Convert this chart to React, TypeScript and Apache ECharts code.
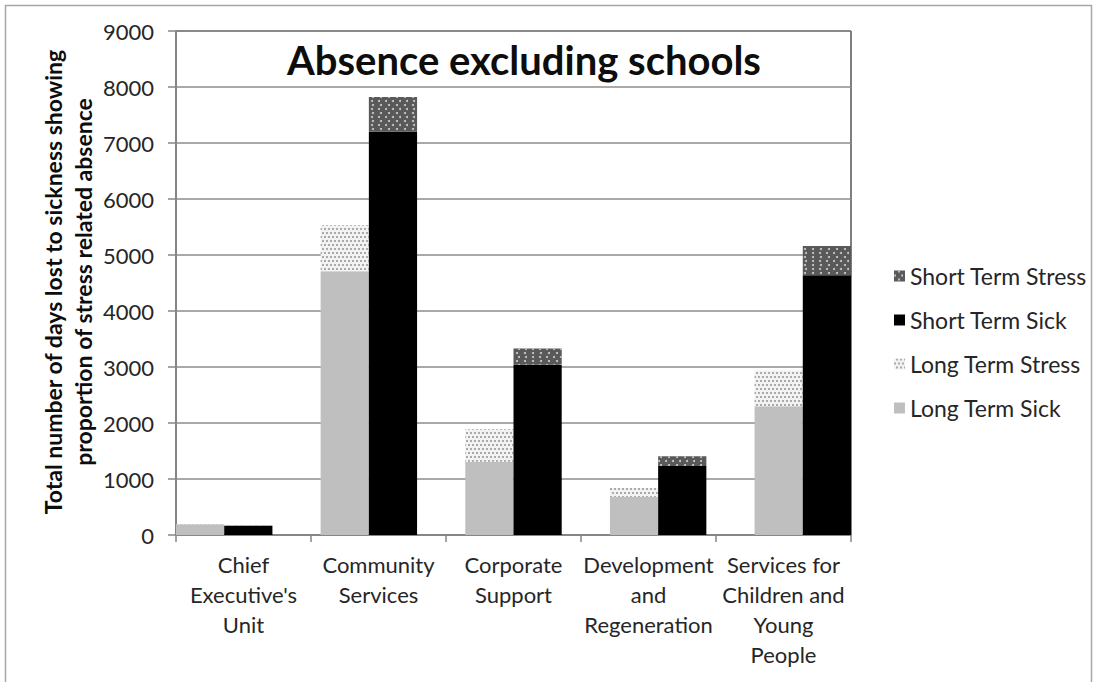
import React, { useEffect, useRef } from "react";
import * as echarts from "echarts";

const categories = [
  "Chief\nExecutive's\nUnit",
  "Community\nServices",
  "Corporate\nSupport",
  "Development\nand\nRegeneration",
  "Services for\nChildren and\nYoung\nPeople",
];
const longTermSick = [190, 4710, 1310, 680, 2300];
const longTermStress = [5, 820, 580, 160, 640];
const shortTermSick = [160, 7200, 3040, 1230, 4640];
const shortTermStress = [10, 620, 290, 175, 520];
const yTicks = { min: 0, max: 9000, interval: 1000 };

const FONT = "Lato";

// each category takes 3 slots: long term, short term, gap (last gap dropped)
const SLOT_COUNT = categories.length * 3 - 1;
const slotData = (vals: number[], offset: number) => {
  const out: (number | string)[] = [];
  for (let i = 0; i < SLOT_COUNT; i++) out.push("-");
  vals.forEach((v, i) => {
    out[i * 3 + offset] = v;
  });
  return out;
};

export default function App() {
  const ref = useRef<HTMLDivElement>(null);
  useEffect(() => {
    document.body.style.margin = "0";
    if (!ref.current) return;
    const chart = echarts.init(ref.current, undefined, { renderer: "svg" });
    const slots: string[] = [];
    for (let i = 0; i < SLOT_COUNT; i++) slots.push(String(i));

    const stressDecalDark = {
      symbol: "circle",
      symbolSize: 1,
      color: "#d0d0d0",
      dashArrayX: [
        [2, 5],
        [0, 3.5, 2, 1.5],
      ],
      dashArrayY: [2, 2],
      rotation: 0,
    };
    const stressDecalLight = {
      symbol: "rect",
      symbolSize: 1,
      color: "#aaaaaa",
      dashArrayX: [
        [1.5, 1.5],
        [0, 1.5, 1.5, 0],
      ],
      dashArrayY: [1.5, 1.5],
      rotation: 0,
    };

    const barCommon = {
      type: "bar" as const,
      xAxisIndex: 1,
      yAxisIndex: 0,
      stack: "total",
      barCategoryGap: "0%",
      barGap: "0%",
    };

    chart.setOption({
      animation: false,
      backgroundColor: "#ffffff",
      textStyle: { fontFamily: FONT },
      grid: {
        left: 176,
        right: 245,
        top: 31,
        bottom: 147,
        show: true,
        borderColor: "#000000",
        borderWidth: 1,
        backgroundColor: "transparent",
      },
      legend: {
        orient: "vertical",
        left: 889,
        top: 259,
        itemWidth: 11,
        itemHeight: 11,
        itemGap: 20,
        icon: "rect",
        data: ["Short Term Stress", "Short Term Sick", "Long Term Stress", "Long Term Sick"],
        textStyle: {
          fontFamily: FONT,
          fontSize: 23,
          color: "#262626",
          lineHeight: 24,
        },
      },
      xAxis: [
        {
          type: "category",
          data: categories,
          boundaryGap: true,
          axisLine: { show: true, lineStyle: { color: "#868686", width: 1.5 } },
          axisTick: { show: true, length: 7, lineStyle: { color: "#868686", width: 1.5 } },
          axisLabel: {
            interval: 0,
            fontFamily: FONT,
            fontSize: 22,
            color: "#262626",
            lineHeight: 30,
            margin: 14,
          },
        },
        {
          type: "category",
          data: slots,
          show: false,
          boundaryGap: true,
        },
      ],
      yAxis: {
        type: "value",
        min: yTicks.min,
        max: yTicks.max,
        interval: yTicks.interval,
        axisLine: { show: true, lineStyle: { color: "#868686", width: 1.5 } },
        axisTick: { show: true, length: 8, lineStyle: { color: "#868686", width: 1.5 } },
        axisLabel: {
          fontFamily: FONT,
          fontSize: 22,
          color: "#262626",
          margin: 22,
          formatter: (v: number) => String(v),
        },
        splitLine: { show: true, lineStyle: { color: "#8c8c8c", width: 1.5 } },
      },
      series: [
        {
          ...barCommon,
          name: "Long Term Sick",
          data: slotData(longTermSick, 0),
          itemStyle: { color: "#bfbfbf" },
        },
        {
          ...barCommon,
          name: "Long Term Stress",
          data: slotData(longTermStress, 0),
          itemStyle: { color: "#f2f2f2", decal: stressDecalLight },
        },
        {
          ...barCommon,
          name: "Short Term Sick",
          data: slotData(shortTermSick, 1),
          itemStyle: { color: "#000000" },
        },
        {
          ...barCommon,
          name: "Short Term Stress",
          data: slotData(shortTermStress, 1),
          itemStyle: { color: "#595959", decal: stressDecalDark },
        },
      ],
      graphic: [
        {
          type: "rect",
          shape: { x: 5.5, y: 5.5, width: 1086, height: 720 },
          style: { fill: "none", stroke: "#a6a6a6", lineWidth: 1.5 },
          silent: true,
          z: -1,
        },
        {
          type: "text",
          x: 524,
          y: 60,
          style: {
            text: "Absence excluding schools",
            fontFamily: FONT,
            fontWeight: "bold",
            fontSize: 40,
            fill: "#0d0d0d",
            textAlign: "center",
            textVerticalAlign: "middle",
          },
        },
        {
          type: "text",
          x: 68,
          y: 282,
          rotation: Math.PI / 2,
          style: {
            text: "Total number of days lost to sickness showing\nproportion of stress related absence",
            fontFamily: FONT,
            fontWeight: "bold",
            fontSize: 23,
            lineHeight: 30,
            fill: "#0d0d0d",
            textAlign: "center",
            textVerticalAlign: "middle",
          },
        },
      ],
    });
    return () => chart.dispose();
  }, []);
  return <div ref={ref} style={{ width: 1096, height: 682 }} />;
}
